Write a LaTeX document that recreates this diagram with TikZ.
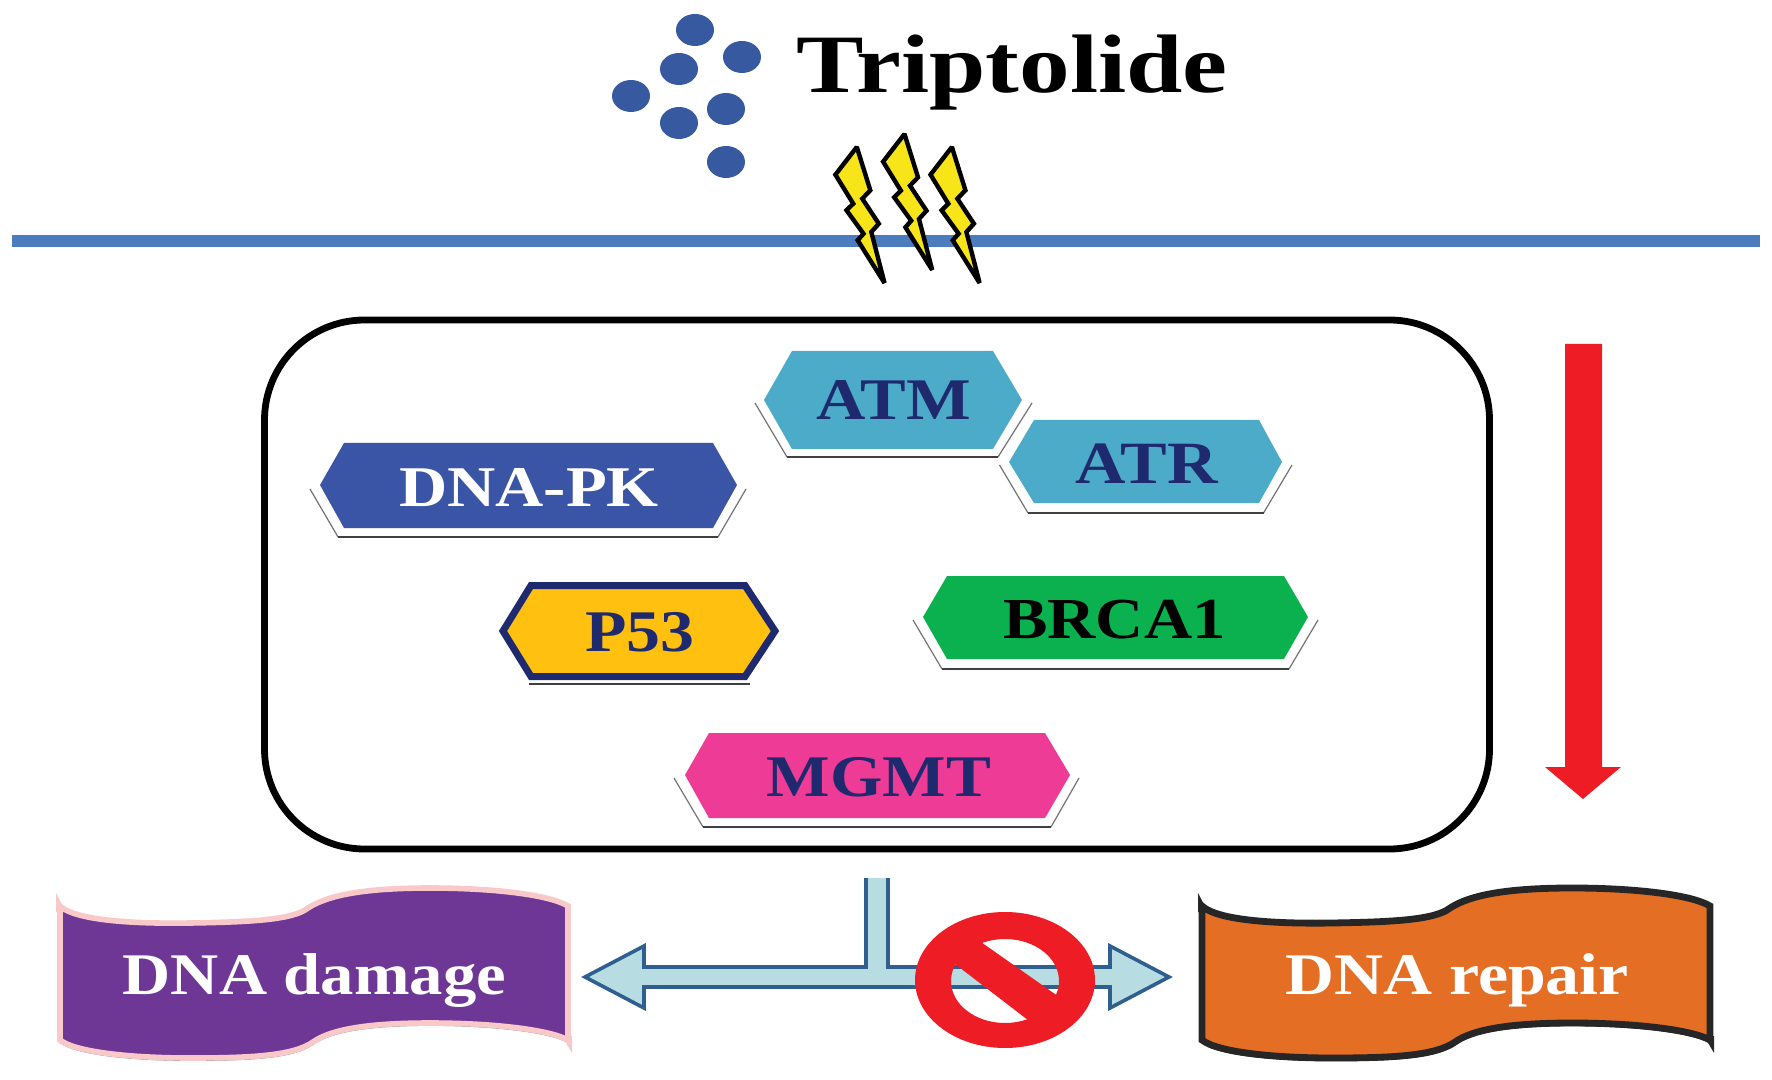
\documentclass[tikz,border=0pt]{standalone}
\usepackage{fontspec}
\setmainfont{Liberation Serif}
\usepackage{graphicx}
\definecolor{dotblue}{HTML}{37599F}
\definecolor{linblue}{HTML}{4A7CBE}
\definecolor{boltyel}{HTML}{F7E51A}
\definecolor{hexdna}{HTML}{3B55A6}
\definecolor{hexatm}{HTML}{4BABC8}
\definecolor{hexp}{HTML}{FFC010}
\definecolor{navy}{HTML}{1F2A6E}
\definecolor{hexbr}{HTML}{0BB14F}
\definecolor{hexmg}{HTML}{EE3C96}
\definecolor{purp}{HTML}{6F3795}
\definecolor{pinkb}{HTML}{F9C9C9}
\definecolor{orng}{HTML}{E36E24}
\definecolor{arrfill}{HTML}{B7DDE3}
\definecolor{arrline}{HTML}{2F5F8F}
\definecolor{redc}{HTML}{EE1C25}
\tikzset{
  x=0.5pt,y=-0.5pt,
  dotm/.style={fill=dotblue,draw=none},
  shside/.style={draw=black!55,line width=0.6pt},
  shbase/.style={draw=black!75,line width=1.2pt},
  labl/.style={anchor=base,inner sep=0pt,outer sep=0pt},
  bolt/.style={fill=boltyel,draw=black,line width=2.2pt,line join=miter,miter limit=2},
  banner/.style={line width=2.8pt,line join=miter},
}
\newcommand{\lblfont}[2]{\fontsize{#1}{#1}\selectfont\bfseries\scalebox{#2}[1]}
\newcommand{\hexsh}[8]{\draw[shside] (#1,#2) -- (#3,#4); \draw[shside] (#5,#6) -- (#7,#8); \draw[shbase] (#3,#4) -- (#5,#6);}
\newcommand{\boltshape}{(0,0) -- (-21.4,27.7) -- (-3.6,56.7) -- (-10.3,63.3) -- (6.7,86.7) -- (0.9,93.3) -- (27.7,136) -- (14.5,85) -- (22,76.7) -- (5.5,51.7) -- (13.5,43.3) -- cycle}
\newcommand{\bannershape}{(60,906) .. controls (75,920) and (130,924) .. (190,923) .. controls (250,922) and (293,920) .. (308,908) .. controls (328,895) and (365,888) .. (430,888) .. controls (495,888) and (550,895) .. (568,906) -- (568,1040) .. controls (550,1030) and (495,1023) .. (430,1023) .. controls (365,1023) and (330,1030) .. (313,1042) .. controls (293,1056) and (250,1058) .. (190,1058) .. controls (130,1058) and (75,1052) .. (60,1040) -- cycle}
\newcommand{\bannerbase}{(568,1042) .. controls (550,1032) and (495,1025) .. (430,1025) .. controls (365,1025) and (330,1032) .. (313,1044) .. controls (293,1058) and (250,1060) .. (190,1060) .. controls (130,1060) and (75,1054) .. (60,1042)}
\begin{document}
\begin{tikzpicture}
\useasboundingbox (0,0) rectangle (1772,1080);
\fill[white] (0,0) rectangle (1772,1080);
% dots
\foreach \px/\py in {695/30,742/57,679/69,631/96,726/109,679/123,726/162}
  \fill[dotm] (\px,\py) ellipse [x radius=9.5pt,y radius=8pt];
\node[labl] (trip) at (1012,93) {\lblfont{41.5pt}{1.22}{Triptolide}};
% membrane
\fill[linblue] (12,235) rectangle (1760,247);
% bolts
\draw[bolt,shift={(856.8,147)}] \boltshape;
\draw[bolt,shift={(904.5,134)}] \boltshape;
\draw[bolt,shift={(951.9,147)}] \boltshape;
% box
\draw[line width=3.4pt,rounded corners=50pt] (264.5,320) rectangle (1489.5,849);
% DNA-PK
\hexsh{310}{489}{338}{537}{718}{537}{746}{489}
\fill[hexdna] (320,485) -- (344,443) -- (713,443) -- (737,485) -- (713,528) -- (344,528) -- cycle;
\node[labl,text=white] (dnapk) at (529,506) {\lblfont{28.8pt}{1.16}{DNA-PK}};
% ATM
\hexsh{755}{403}{787}{457}{998}{457}{1032}{403}
\fill[hexatm] (764,400) -- (792,351) -- (993,351) -- (1022,400) -- (993,449) -- (792,449) -- cycle;
\node[labl,text=navy] (atm) at (893.5,420) {\lblfont{29.5pt}{1.16}{ATM}};
% ATR
\hexsh{999.5}{465}{1028}{513}{1263.5}{513}{1292}{465}
\fill[hexatm] (1009,462) -- (1034,420) -- (1259,420) -- (1282,462) -- (1259,503) -- (1034,503) -- cycle;
\node[labl,text=navy] (atr) at (1146.5,483) {\lblfont{30pt}{1.165}{ATR}};
% P53
\draw[shbase] (529,684) -- (750,684);
\draw[fill=hexp,draw=navy,line width=3.5pt,line join=miter] (503,631) -- (531,585.5) -- (745,585.5) -- (775,631) -- (745,676.5) -- (531,676.5) -- cycle;
\node[labl,text=navy] (p53) at (640,651) {\lblfont{29.5pt}{1.15}{P53}};
% BRCA1
\hexsh{913}{620}{942}{669}{1289}{669}{1318}{620}
\fill[hexbr] (923,617) -- (947,576) -- (1284,576) -- (1308,617) -- (1284,659) -- (947,659) -- cycle;
\node[labl,text=black] (brca) at (1114.5,638) {\lblfont{29pt}{1.15}{BRCA1}};
% MGMT
\hexsh{674}{778}{703}{827}{1051}{827}{1079}{778}
\fill[hexmg] (685,775) -- (709,733) -- (1045,733) -- (1070,775) -- (1045,818) -- (709,818) -- cycle;
\node[labl,text=navy] (mgmt) at (879,796) {\lblfont{29.5pt}{1.14}{MGMT}};
% red arrow
\fill[redc] (1565,344) -- (1602,344) -- (1602,767) -- (1621,767) -- (1583,799) -- (1545,767) -- (1565,767) -- cycle;
% banners
\draw[black!50,line width=0.9pt] \bannerbase;
\draw[banner,fill=purp,draw=pinkb] \bannershape;
\fill[pinkb] (56,893) -- (56,912) -- (66,912) -- cycle;
\fill[pinkb] (572,1053) -- (572,1036) -- (562,1036) -- cycle;
\node[labl,text=white] (dmg) at (314.5,994) {\lblfont{29.5pt}{1.13}{DNA damage}};
\begin{scope}[shift={(1142,0)}]
\draw[black!85,line width=1.2pt] \bannerbase;
\draw[banner,line width=3.4pt,fill=orng,draw=black!85] \bannershape;
\fill[black!85] (56,893) -- (56,912) -- (66,912) -- cycle;
\fill[black!85] (572,1053) -- (572,1036) -- (562,1036) -- cycle;
\node[labl,text=white] (rep) at (315,994) {\lblfont{29.5pt}{1.15}{DNA repair}};
\end{scope}
% double arrow
\draw[fill=arrfill,draw=arrline,line width=1.8pt,line join=miter,miter limit=3] (866,878) -- (866,967) -- (644,967) -- (644,946) -- (585,977) -- (644,1008) -- (644,987) -- (1110,987) -- (1110,1008) -- (1169,977) -- (1110,946) -- (1110,967) -- (888,967) -- (888,878);
% forbidden sign
\fill[redc,even odd rule] (1005,980) ellipse [x radius=45pt,y radius=34pt] (1005,981) ellipse [x radius=27pt,y radius=21pt];
\fill[redc] (968,933) -- (942,954) -- (1037,1027) -- (1072,1006) -- cycle;
\end{tikzpicture}
\end{document}
